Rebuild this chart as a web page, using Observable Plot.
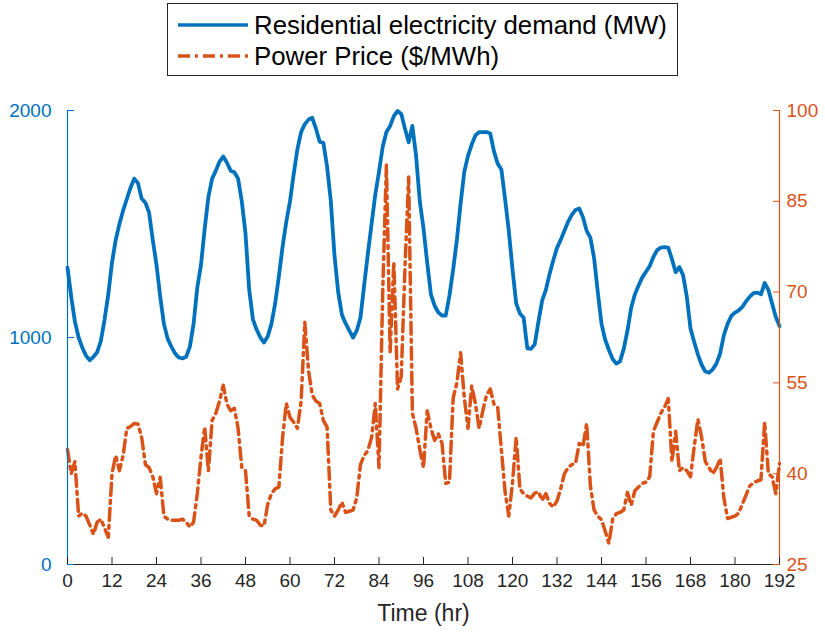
<!DOCTYPE html>
<html>
<head>
<meta charset="utf-8">
<script src="https://cdn.jsdelivr.net/npm/d3@7"></script>
<script src="https://cdn.jsdelivr.net/npm/@observablehq/plot@0.6"></script>
<style>
  body { margin: 0; background: #fff; font-family: "Liberation Sans", Arial, Helvetica, sans-serif; }
  #wrap { position: relative; width: 825px; height: 632px; }
  #legend { position: absolute; left: 167px; top: 3px; width: 509px; height: 71px; border: 1px solid #262626; background: #fff; }
  .lrow { position: absolute; left: 0; height: 30px; display: flex; align-items: center; }
  .lrow svg { margin-left: 10px; }
  .lrow span { margin-left: 6px; font-size: 25.8px; color: #000; white-space: nowrap; }
</style>
</head>
<body>
<div id="wrap"></div>
<script>
// ---- data ----
const seriesNames = ["Residential electricity demand (MW)", "Power Price ($/MWh)"];
const xTicks = [0, 12, 24, 36, 48, 60, 72, 84, 96, 108, 120, 132, 144, 156, 168, 180, 192];
const demandTicks = [0, 1000, 2000];
const priceTicks = [25, 40, 55, 70, 85, 100];
const xLabel = "Time (hr)";

// hourly demand, hours 0..192
const demand = [
  1308,1180,1070,1000,955,920,900,915,935,985,1080,1190,
  1330,1430,1500,1560,1610,1660,1700,1680,1612,1594,1550,1430,
  1320,1180,1060,995,960,930,912,908,915,960,1060,1220,
  1320,1480,1620,1700,1735,1775,1797,1770,1735,1728,1700,1600,
  1458,1210,1080,1035,1000,978,1005,1060,1150,1270,1400,1510,
  1600,1720,1830,1905,1940,1960,1968,1920,1862,1858,1752,1603,
  1360,1200,1100,1062,1030,1000,1030,1088,1230,1370,1500,1630,
  1730,1840,1905,1932,1975,1998,1985,1920,1860,1932,1800,1600,
  1480,1330,1190,1140,1110,1097,1097,1185,1300,1430,1590,1730,
  1800,1850,1890,1905,1905,1905,1899,1820,1766,1740,1610,1470,
  1300,1150,1105,1088,952,950,970,1070,1163,1210,1280,1340,
  1395,1430,1470,1510,1540,1562,1568,1530,1470,1440,1350,1200,
  1060,990,945,905,885,895,950,1030,1130,1190,1229,1265,
  1290,1315,1355,1385,1396,1398,1396,1345,1288,1310,1275,1180,
  1040,980,925,880,850,845,860,885,930,1010,1060,1095,
  1110,1120,1135,1160,1180,1195,1198,1190,1240,1210,1150,1090,
  1050
];

// hourly power price ($/MWh), hours 0..192
const price = [
  44,40,42,33,33.5,33,31.5,30,32,32.5,31,29.5,
  40,43,40.5,43,47.5,47.8,48.3,48.2,46,41.5,41,39.5,
  36.7,39.4,33,32.5,32.3,32.3,32.3,32.5,32,31.2,32,36.7,
  42.7,47.7,40.5,48.8,50,52,54.6,51.5,50.4,50.8,47.5,41,
  40.5,33,32.5,32.3,31.5,31.4,35,36.7,37.5,37.8,46,51.6,
  49.3,48.5,47.5,52,65,57,53,52,51.6,48.8,47.7,34,
  33,34,35.3,33.6,33.8,34,36,41.5,43,43.8,46,51.6,
  41,70,91,60,75,54,56,74,89,50,47.5,44,
  41,50.4,47.5,45.5,46.6,45,38.4,38.6,52.5,55,60,52.6,
  47.5,54.5,51.6,47.5,50.4,53,54,51.5,51,44,37,33,
  38.5,46,37.5,36.7,36.3,36,36.8,37,35.6,36.7,35.1,34.5,
  35.5,37.5,40,41,41.5,41.7,45,44.5,48.3,38,34,33,
  32.4,30.5,28.5,32.5,33.4,33.6,34,36.9,34.8,37.2,37.8,38.4,
  38.6,39.5,47,48.5,50,51,52.4,42,47,40.5,41,40.5,
  39.5,44.5,49,46,42,41,40,41,42.5,36,32.6,32.8,
  33,33.5,35,36.5,38,38.5,38.8,39,48.5,40,39.5,36.7,
  41.7
];

// ---- chart ----
const blue = "#0072BD", orange = "#D95319", dark = "#262626";
const pMin = 25, pMax = 100, dMax = 2000;
const toY = p => (p - pMin) * dMax / (pMax - pMin);
const fromY = y => String(Math.round(y * (pMax - pMin) / dMax + pMin));

const table = demand.map((d, i) => ({h: i, demand: d, price: price[i]}));

const chart = Plot.plot({
  width: 825,
  height: 632,
  marginTop: 110,
  marginRight: 46,
  marginBottom: 68,
  marginLeft: 67,
  style: {fontFamily: '"Liberation Sans", Arial, Helvetica, sans-serif', fontSize: "19px", background: "white", overflow: "visible"},
  x: {domain: [0, 192]},
  y: {domain: [0, dMax]},
  marks: [
    Plot.lineY(table, {x: "h", y: "demand", stroke: blue, strokeWidth: 3.8, strokeLinejoin: "round"}),
    Plot.lineY(table, {x: "h", y: d => toY(d.price), stroke: orange, strokeWidth: 3.5, strokeDasharray: "12,5,3,5"}),
    // axis lines
    Plot.ruleX([0], {stroke: blue, strokeWidth: 1.2}),
    Plot.ruleX([192], {stroke: orange, strokeWidth: 1.2}),
    Plot.ruleY([0], {stroke: dark, strokeWidth: 1.2}),
    // bottom axis
    Plot.axisX({ticks: xTicks, tickFormat: d => String(d), tickSize: 0, tickPadding: 9, fill: dark, label: null}),
    Plot.axisX({ticks: xTicks, tickSize: 7, dy: -7, stroke: dark, fill: "none", label: null}),
    Plot.text([xLabel], {frameAnchor: "bottom", dy: 56, fontSize: 23, fill: dark}),
    // left axis (demand)
    Plot.axisY({anchor: "left", ticks: demandTicks, tickFormat: d => String(d), tickSize: 0, tickPadding: 16, fill: blue, label: null}),
    Plot.axisY({anchor: "left", ticks: demandTicks, tickSize: 7, dx: 7, stroke: blue, fill: "none", label: null}),
    // right axis (price)
    Plot.axisY({anchor: "right", ticks: priceTicks.map(toY), tickFormat: fromY, tickSize: 0, tickPadding: 7, fill: orange, label: null}),
    Plot.axisY({anchor: "right", ticks: priceTicks.map(toY), tickSize: 7, dx: -7, stroke: orange, fill: "none", label: null})
  ]
});

const wrap = document.getElementById("wrap");
wrap.appendChild(chart);

// legend
const legend = document.createElement("div");
legend.id = "legend";
const rows = [
  {name: seriesNames[0], color: blue, dash: null, top: 6},
  {name: seriesNames[1], color: orange, dash: "12,5,3,5", top: 37}
];
for (const r of rows) {
  const row = document.createElement("div");
  row.className = "lrow";
  row.style.top = r.top + "px";
  row.innerHTML = `<svg width="70" height="10"><line x1="0" y1="5" x2="70" y2="5" stroke="${r.color}" stroke-width="3.5" ${r.dash ? `stroke-dasharray="${r.dash}"` : ""}/></svg><span>${r.name}</span>`;
  legend.appendChild(row);
}
wrap.appendChild(legend);
</script>
</body>
</html>
